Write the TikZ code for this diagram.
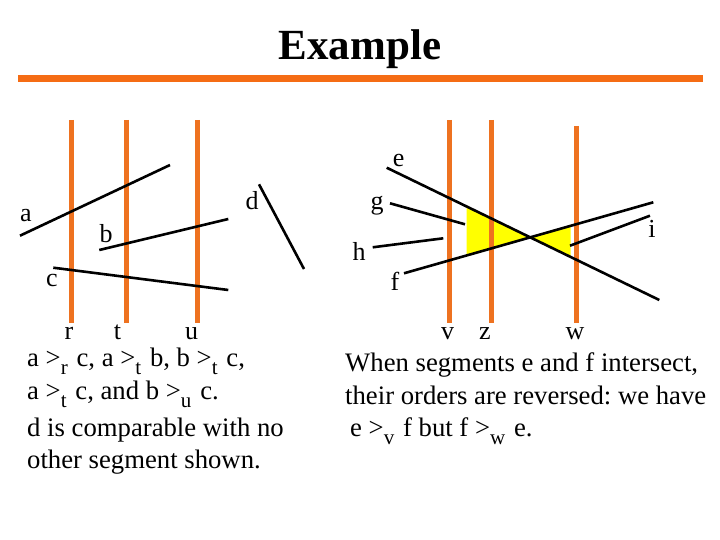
\documentclass[tikz,border=0pt]{standalone}
\usepackage{fontspec}
\setmainfont{Liberation Serif}
\usetikzlibrary{intersections}
\definecolor{orng}{RGB}{238,114,32}
\definecolor{barorng}{RGB}{245,108,20}
\definecolor{ylw}{RGB}{255,255,0}
\newcommand\lsub[1]{\raisebox{-0.33em}{\fontsize{21}{21}\selectfont #1}\hspace{0.08em}}
\begin{document}
\frenchspacing
\begin{tikzpicture}[x=1pt,y=-1pt,
  sweep/.style={draw=orng,line width=5pt},
  seg/.style={draw=black,line width=2.6pt},
  lbl/.style={font=\fontsize{26}{26}\selectfont, inner sep=0pt, anchor=base},
  txt/.style={font=\fontsize{26.7}{32}\selectfont\frenchspacing, anchor=base west, inner sep=0pt}]
\useasboundingbox (0,0) rectangle (720,540);
% title
\node[font=\fontsize{43}{43}\selectfont\bfseries, anchor=base, inner sep=0pt] (title) at (360,60) {Example};
\coordinate (bar1) at (18,78.5);
\coordinate (bar2) at (703,78.5);
\draw[draw=barorng, line width=7pt] (bar1) -- (bar2);

% ---------- left panel ----------
\coordinate (r1) at (71.7,120); \coordinate (r2) at (71.7,323);
\coordinate (t1) at (126,120);  \coordinate (t2) at (126,323);
\coordinate (u1) at (197.7,120); \coordinate (u2) at (197.7,323);
\draw[sweep] (r1) -- (r2);
\draw[sweep] (t1) -- (t2);
\draw[sweep] (u1) -- (u2);

\coordinate (a1) at (20,235.7); \coordinate (a2) at (170,165);
\coordinate (b1) at (99.3,250); \coordinate (b2) at (228.3,219);
\coordinate (c1) at (53.3,267.7); \coordinate (c2) at (228.3,290);
\coordinate (d1) at (259,184.3); \coordinate (d2) at (304,269);
\draw[seg] (a1) -- (a2);
\draw[seg] (b1) -- (b2);
\draw[seg] (c1) -- (c2);
\draw[seg] (d1) -- (d2);

\node[lbl] (la) at (26,221.7) {a};
\node[lbl] (lb) at (106,243) {b};
\node[lbl] (lc) at (52,286.7) {c};
\node[lbl] (ld) at (252,210) {d};
\node[lbl] (lr) at (69,339) {r};
\node[lbl] (lt) at (117.5,339) {t};
\node[lbl] (lu) at (191.5,339) {u};

% ---------- right panel ----------
\coordinate (e1) at (386.7,167.7); \coordinate (e2) at (659.3,300);
\coordinate (f1) at (404,273.3);   \coordinate (f2) at (653.3,202.3);
\coordinate (g1) at (390,203.3);   \coordinate (g2) at (465,224.3);
\coordinate (h1) at (372.7,247.3); \coordinate (h2) at (443.3,238.3);
\coordinate (i1) at (570,245.7);   \coordinate (i2) at (650,215.7);

\path[name path=E] (e1) -- (e2);
\path[name path=F] (f1) -- (f2);
\path[name path=YL] (466.7,150) -- (466.7,300);
\path[name path=YR] (570.7,150) -- (570.7,300);
\path[name intersections={of=E and F, by=X}];
\path[name intersections={of=E and YL, by=LE}];
\path[name intersections={of=F and YL, by=LF}];
\path[name intersections={of=E and YR, by=RE}];
\path[name intersections={of=F and YR, by=RF}];
\fill[ylw] (LE) -- (X) -- (LF) -- cycle;
\fill[ylw] (RF) -- (X) -- (RE) -- cycle;

\coordinate (v1) at (449.3,120); \coordinate (v2) at (449.3,323);
\coordinate (z1) at (491.7,120); \coordinate (z2) at (491.7,323);
\coordinate (w1) at (576,126);   \coordinate (w2) at (576,323);
\draw[sweep] (v1) -- (v2);
\draw[sweep] (z1) -- (z2);
\draw[sweep] (w1) -- (w2);

\draw[seg] (e1) -- (e2);
\draw[seg] (f1) -- (f2);
\draw[seg] (g1) -- (g2);
\draw[seg] (h1) -- (h2);
\draw[seg] (i1) -- (i2);

\node[lbl] (le) at (398.7,167) {e};
\node[lbl] (lg) at (377,210) {g};
\node[lbl] (lh) at (359,260) {h};
\node[lbl] (lf) at (395,290) {f};
\node[lbl] (li) at (652,237) {i};
\node[lbl] (lv) at (447.5,339) {v};
\node[lbl] (lz) at (485,339) {z};
\node[lbl] (lw) at (575,339) {w};

% ---------- texts ----------
\node[txt] (L1) at (27,366) {a >\lsub{r} c, a >\lsub{t} b, b >\lsub{t} c,};
\node[txt] (L2) at (27,399) {a >\lsub{t} c, and b >\lsub{u} c.};
\node[txt] (L3) at (27,436) {d is comparable with no};
\node[txt] (L4) at (27,468) {other segment shown.};

\node[txt] (R1) at (345,371) {When segments e and f intersect,};
\node[txt] (R2) at (345,404) {their orders are reversed: we have};
\node[txt] (R3) at (350,436) {e >\lsub{v} f but f >\lsub{w} e.};
\end{tikzpicture}
\end{document}
